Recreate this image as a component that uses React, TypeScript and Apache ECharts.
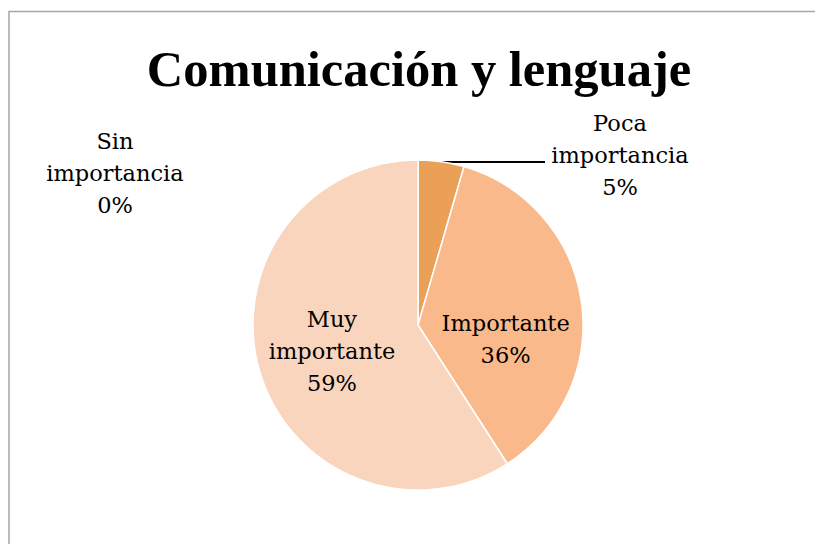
import React, { useEffect, useRef } from "react";
import * as echarts from "echarts";

const titleText = "Comunicación y lenguaje";
const categories = ["Sin importancia", "Poca importancia", "Importante", "Muy importante"];
const values = [0, 4.5, 36.4, 59.1];
const colors = ["#C0504D", "#EBA057", "#F9B98A", "#FAD5BE"];

export default function App() {
  const ref = useRef<HTMLDivElement>(null);
  useEffect(() => {
    if (!ref.current) return;
    const chart = echarts.init(ref.current, undefined, { renderer: "svg" });
    const cx = 418;
    const cy = 325;
    const R = 165;
    const outside = [true, true, false, false];
    const data = categories.map((name, i) => ({
      name,
      value: values[i],
      itemStyle: { color: colors[i] },
      label: { position: outside[i] ? "outside" : "inside" },
      labelLine: { show: i === 1 },
    }));
    chart.setOption({
      animation: false,
      backgroundColor: "#ffffff",
      title: {
        text: titleText,
        left: 414,
        textAlign: "center",
        top: 38,
        textStyle: {
          fontFamily: "Liberation Serif",
          fontWeight: "bold",
          fontSize: 50.5,
          color: "#000",
        },
      },
      graphic: [
        {
          type: "rect",
          shape: { x: 9, y: 11.5, width: 1000, height: 800 },
          style: { fill: "none", stroke: "#A6A6A6", lineWidth: 1.5 },
          silent: true,
        },
      ],
      series: [
        {
          type: "pie",
          center: [cx, cy],
          radius: R,
          startAngle: 90,
          clockwise: true,
          percentPrecision: 0,
          avoidLabelOverlap: false,
          itemStyle: { borderColor: "#ffffff", borderWidth: 1.5 },
          label: {
            show: true,
            fontFamily: "DejaVu Serif",
            fontSize: 22.5,
            lineHeight: 32,
            color: "#000",
            align: "center",
            formatter: (p: any) => p.name.replace(" ", "\n") + "\n" + p.percent + "%",
          },
          labelLine: { show: false, lineStyle: { color: "#000", width: 1.8 }, smooth: false },
          labelLayout: (params: any) => {
            const i = params.dataIndex;
            if (i === 0) {
              return { x: 115, y: 173, align: "center", verticalAlign: "middle" };
            }
            if (i === 1) {
              return {
                x: 620,
                y: 155,
                align: "center",
                verticalAlign: "middle",
                labelLinePoints: [
                  [442, 162],
                  [494, 162],
                  [545, 162],
                ],
              };
            }
            if (i === 2) return { dx: 3, dy: 26 };
            return { dx: -4, dy: 2 };
          },
          data,
        },
      ],
    });
    return () => chart.dispose();
  }, []);
  return (
    <div
      ref={ref}
      style={{ position: "absolute", left: 0, top: 0, width: 815, height: 544 }}
    />
  );
}
